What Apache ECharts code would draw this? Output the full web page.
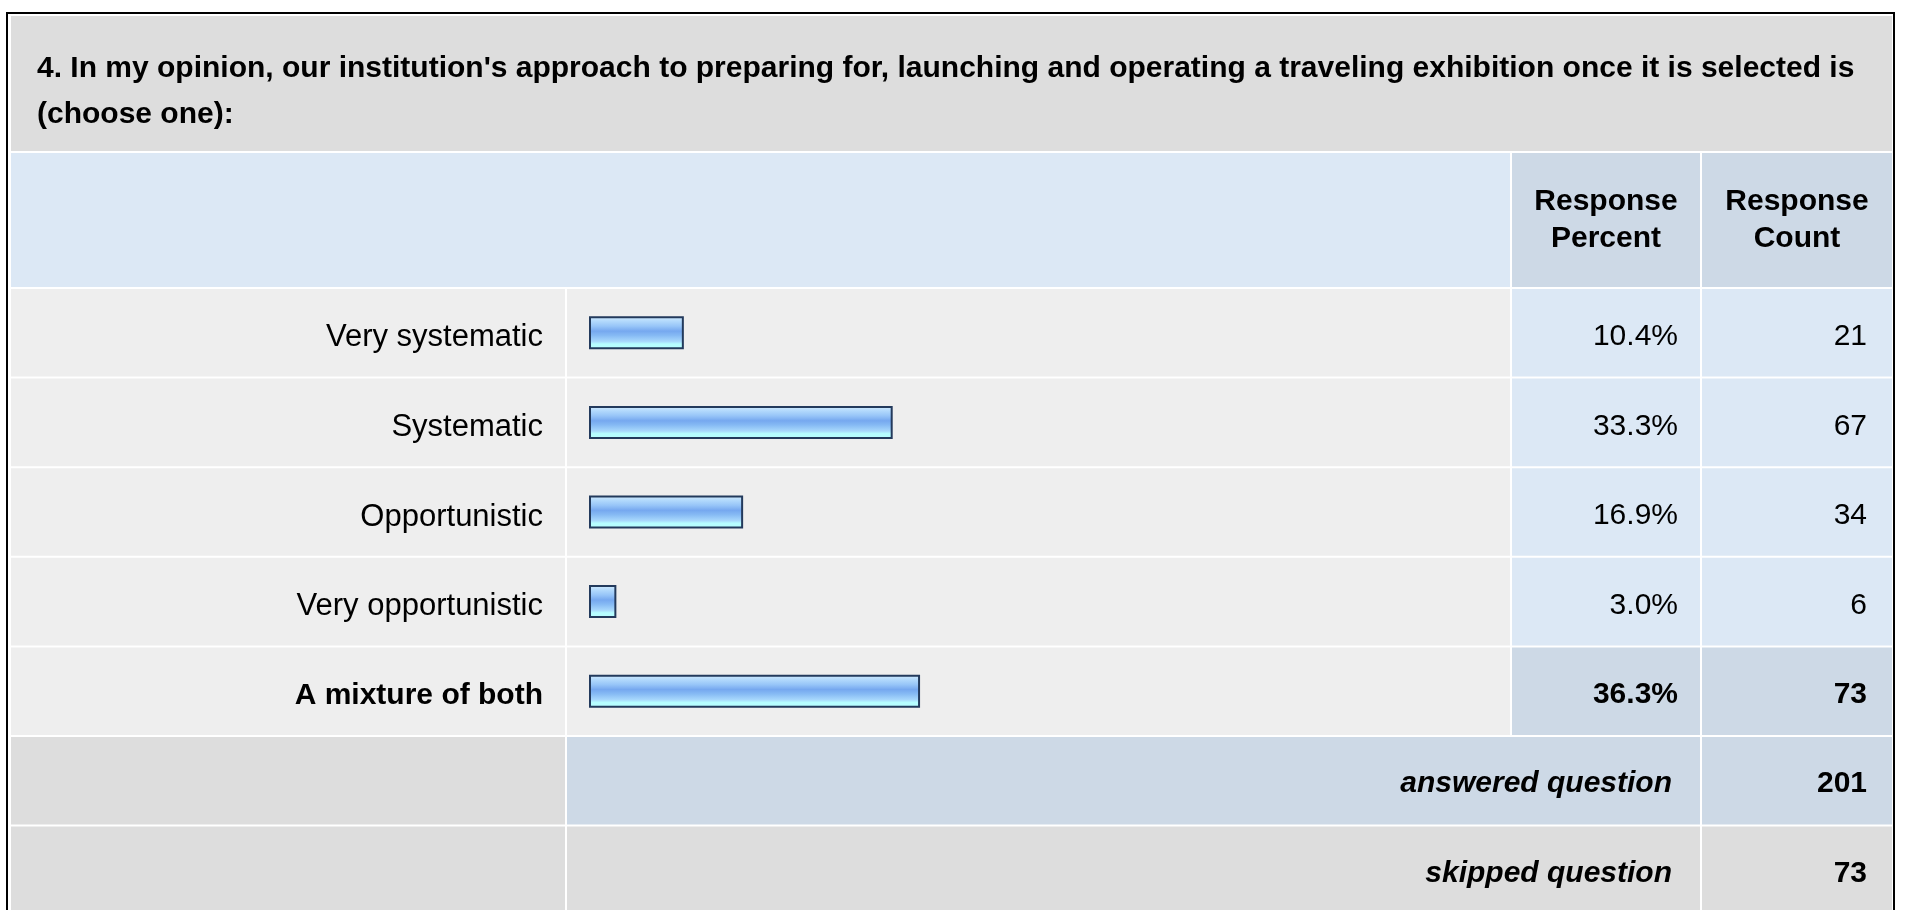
<!DOCTYPE html>
<html>
<head>
<meta charset="utf-8">
<script src="https://cdn.jsdelivr.net/npm/echarts@6/dist/echarts.min.js"></script>
<style>
  html, body { margin: 0; padding: 0; background: #ffffff; }
  #chart { width: 1907px; height: 910px; }
</style>
</head>
<body>
<div id="chart"></div>
<script>
// ---------------- data ----------------
const titleLines = [
  "4. In my opinion, our institution's approach to preparing for, launching and operating a traveling exhibition once it is selected is",
  "(choose one):"
];
const categories = ['Very systematic', 'Systematic', 'Opportunistic', 'Very opportunistic', 'A mixture of both'];
const responsePercent = [10.4, 33.3, 16.9, 3.0, 36.3];
const responseCount = [21, 67, 34, 6, 73];
const headerPercent = ['Response', 'Percent'];
const headerCount = ['Response', 'Count'];
const summaryLabels = ['answered question', 'skipped question'];
const summaryValues = [201, 73];

// ---------------- layout ----------------
const FONT = '"Liberation Sans", Arial, Helvetica, sans-serif';
const C = { // column edges
  left: 11, labelR: 565, barL: 567, barR: 1510, pctL: 1512, pctR: 1700, cntL: 1702, right: 1892
};
const gridTop = 288, rowH = 89.6;
const gridLeft = 589, gridWidth = 912;
const colors = {
  title: '#dddddd', head: '#dce8f5', headDark: '#cdd9e6', row: '#eeeeee', cell: '#dce8f5', cellDark: '#cdd9e6', summary: '#dddddd'
};
const maxIdx = responsePercent.indexOf(Math.max.apply(null, responsePercent));

const graphics = [];
function rect(x0, y0, x1, y1, fill) {
  graphics.push({ type: 'rect', z: 0, silent: true, shape: { x: x0, y: y0, width: x1 - x0, height: y1 - y0 }, style: { fill: fill } });
}
// outer frame
graphics.push({ type: 'rect', z: 1, silent: true, shape: { x: 7, y: 13, width: 1887, height: 1000 }, style: { fill: 'none', stroke: '#000000', lineWidth: 2 } });
// title band
rect(C.left, 16, C.right, 151, colors.title);
// header row
rect(C.left, 153, C.barR, 287, colors.head);
rect(C.pctL, 153, C.pctR, 287, colors.headDark);
rect(C.cntL, 153, C.right, 287, colors.headDark);
// data rows
categories.forEach(function (c, i) {
  const y0 = gridTop + i * rowH + 1, y1 = gridTop + (i + 1) * rowH - 1;
  rect(C.left, y0, C.labelR, y1, colors.row);
  rect(C.barL, y0, C.barR, y1, colors.row);
  const cc = i === maxIdx ? colors.cellDark : colors.cell;
  rect(C.pctL, y0, C.pctR, y1, cc);
  rect(C.cntL, y0, C.right, y1, cc);
});
// summary rows
summaryLabels.forEach(function (lab, k) {
  const i = categories.length + k;
  const y0 = gridTop + i * rowH + 1, y1 = gridTop + (i + 1) * rowH - 1;
  const fill = k === 0 ? colors.headDark : colors.summary;
  rect(C.left, y0, C.labelR, y1, colors.summary);
  rect(C.barL, y0, C.pctR, y1, fill);
  rect(C.cntL, y0, C.right, y1, fill);
  const yc = gridTop + (i + 0.5) * rowH + 3;
  graphics.push({ type: 'text', z: 10, silent: true, x: C.pctR - 28, y: yc,
    style: { text: lab, fontFamily: FONT, fontSize: 30, fontWeight: 'bold', fontStyle: 'italic', fill: '#000', textAlign: 'right', textVerticalAlign: 'middle' } });
  graphics.push({ type: 'text', z: 10, silent: true, x: C.right - 25, y: yc,
    style: { text: String(summaryValues[k]), fontFamily: FONT, fontSize: 30, fontWeight: 'bold', fill: '#000', textAlign: 'right', textVerticalAlign: 'middle' } });
});
// header texts
[[headerPercent, (C.pctL + C.pctR) / 2], [headerCount, (C.cntL + C.right) / 2]].forEach(function (h) {
  graphics.push({ type: 'text', z: 10, silent: true, x: h[1], y: 220,
    style: { text: h[0].join('\n'), fontFamily: FONT, fontSize: 30, fontWeight: 'bold', lineHeight: 37, fill: '#000', textAlign: 'center', textVerticalAlign: 'middle' } });
});

const barGradient = new echarts.graphic.LinearGradient(0, 0, 0, 1, [
  { offset: 0, color: '#d3ecfe' },
  { offset: 0.15, color: '#b2d9fc' },
  { offset: 0.3, color: '#97c5f8' },
  { offset: 0.45, color: '#76a8ef' },
  { offset: 0.58, color: '#86baf4' },
  { offset: 0.76, color: '#a8d8fc' },
  { offset: 0.84, color: '#b6fdff' },
  { offset: 1, color: '#b6fdff' }
]);

const labelRich = {
  n: { fontFamily: FONT, fontSize: 31, color: '#000', fontWeight: 'normal' },
  b: { fontFamily: FONT, fontSize: 30, color: '#000', fontWeight: 'bold' }
};
const valueRich = {
  n: { fontFamily: FONT, fontSize: 30, color: '#000', fontWeight: 'normal' },
  b: { fontFamily: FONT, fontSize: 30, color: '#000', fontWeight: 'bold' }
};
function tagged(text, i) { return (i === maxIdx ? '{b|' : '{n|') + text + '}'; }

const chart = echarts.init(document.getElementById('chart'), null, { renderer: 'canvas' });
chart.setOption({
  animation: false,
  backgroundColor: '#ffffff',
  title: {
    text: titleLines.join('\n'),
    left: 32, top: 41,
    textStyle: { fontFamily: FONT, fontSize: 30, fontWeight: 'bold', color: '#000', lineHeight: 46 },
    z: 10
  },
  graphic: { elements: graphics },
  grid: { left: gridLeft, width: gridWidth, top: gridTop, height: rowH * categories.length, containLabel: false },
  xAxis: { type: 'value', min: 0, max: 100, show: false },
  yAxis: [
    {
      type: 'category', data: categories, inverse: true, z: 5,
      axisLine: { show: false }, axisTick: { show: false }, splitLine: { show: false },
      axisLabel: { interval: 0, margin: 46, align: 'right', verticalAlign: 'middle', padding: [10, 0, 0, 0],
        formatter: function (v, i) { return tagged(v, i); }, rich: labelRich }
    },
    {
      type: 'category', data: categories, inverse: true, position: 'right', offset: 177, z: 5,
      axisLine: { show: false }, axisTick: { show: false }, splitLine: { show: false },
      axisLabel: { interval: 0, margin: 0, align: 'right', verticalAlign: 'middle', padding: [8, 0, 0, 0],
        formatter: function (v, i) { return tagged(responsePercent[i].toFixed(1) + '%', i); }, rich: valueRich }
    },
    {
      type: 'category', data: categories, inverse: true, position: 'right', offset: 366, z: 5,
      axisLine: { show: false }, axisTick: { show: false }, splitLine: { show: false },
      axisLabel: { interval: 0, margin: 0, align: 'right', verticalAlign: 'middle', padding: [8, 0, 0, 0],
        formatter: function (v, i) { return tagged(String(responseCount[i]), i); }, rich: valueRich }
    }
  ],
  series: [{
    type: 'bar', yAxisIndex: 0, xAxisIndex: 0, z: 5, silent: true,
    data: responsePercent,
    barWidth: 33,
    itemStyle: { color: barGradient, borderColor: '#233a5c', borderWidth: 2 }
  }]
});
</script>
</body>
</html>
